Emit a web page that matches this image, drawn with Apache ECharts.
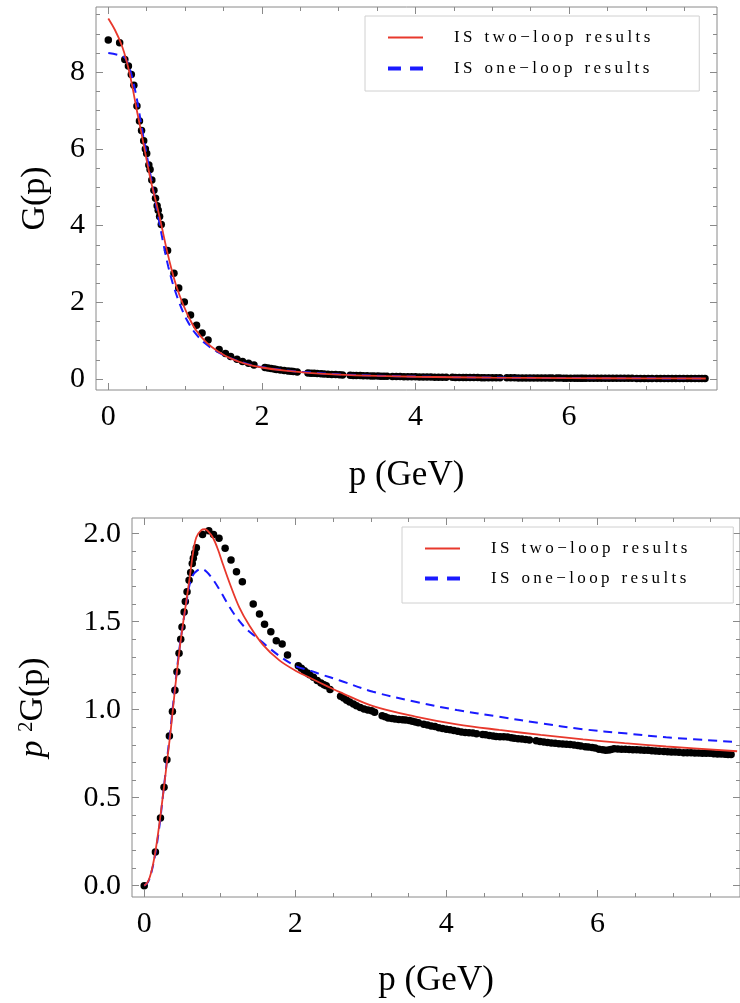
<!DOCTYPE html>
<html><head><meta charset="utf-8">
<script src="https://cdn.jsdelivr.net/npm/echarts@6/dist/echarts.min.js"></script>
<style>html,body{margin:0;padding:0;background:#fff;}#c{width:740px;height:1003px;}</style>
</head><body><div id="c"></div><script>
// ---- lattice data (momentum p in GeV) ----
const pLattice = [0,0.148,0.215,0.262,0.300,0.333,0.373,0.406,0.433,0.461,0.483,0.500,0.528,0.544,0.567,0.594,0.615,0.636,0.650,0.668,0.690,
0.772,0.855,0.917,0.990,1.071,1.149,1.221,1.299,1.443,1.526,1.593,1.676,1.748,1.826,1.897,
2.04,2.08,2.12,2.16,2.19,2.24,2.29,2.34,2.38,2.41,2.46,
2.60,2.64,2.68,2.72,2.77,2.81,2.86,2.91,2.96,3.01,3.05,
3.15,3.19,3.23,3.28,3.32,3.37,3.42,3.46,3.51,3.55,3.59,3.63,
3.70,3.75,3.80,3.85,3.90,3.95,4.00,4.05,4.10,4.15,4.20,4.25,4.30,4.35,4.40,
4.48,4.52,4.57,4.62,4.66,4.71,4.76,4.81,4.86,4.90,
4.95,5.00,5.05,5.10,
5.19,5.24,5.29,5.34,5.39,5.44,5.49,5.54,5.59,5.64,5.69,5.74,5.78,
5.84,5.88,5.93,5.97,
6.02,6.07,6.11,6.15,6.18,
6.22,6.27,6.32,6.37,6.42,6.47,6.52,6.57,6.62,6.67,6.72,6.77,6.82,
6.88,6.93,6.98,7.03,7.08,
7.14,7.19,7.24,7.29,7.34,7.39,7.44,7.49,7.54,7.59,7.64,7.69,7.73,7.77];
// G(p)
const gLattice = [8.84,8.77,8.33,8.16,7.94,7.66,7.12,6.73,6.48,6.21,6.00,5.88,5.58,5.46,5.19,4.92,4.71,4.52,4.40,4.24,4.03,
3.35,2.76,2.37,2.01,1.67,1.40,1.20,1.02,0.768,0.663,0.585,0.514,0.456,0.412,0.364,
0.300,0.285,0.272,0.259,0.250,0.236,0.222,0.210,0.202,0.196,0.184,
0.159,0.153,0.147,0.141,0.135,0.130,0.124,0.119,0.114,0.110,0.106,
0.0974,0.0943,0.0913,0.0883,0.0859,0.0832,0.0806,0.0786,0.0761,0.0741,0.0722,0.0703,
0.0671,0.0649,0.0629,0.0610,0.0590,0.0572,0.0556,0.0540,0.0525,0.0510,0.0495,0.0482,0.0470,0.0458,0.0446,
0.0428,0.0419,0.0408,0.0398,0.0390,0.0382,0.0373,0.0365,0.0356,0.0349,
0.0341,0.0333,0.0326,0.0318,
0.0306,0.0299,0.0292,0.0285,0.0279,0.0273,0.0268,0.0262,0.0257,0.0252,0.0247,0.0242,0.0238,
0.0232,0.0228,0.0223,0.0220,
0.0214,0.0210,0.0206,0.0204,0.0203,
0.0201,0.0198,0.0194,0.0191,0.0188,0.0185,0.0182,0.0179,0.0176,0.0173,0.0170,0.0167,0.0164,
0.0161,0.0158,0.0156,0.0154,0.0151,
0.0148,0.0146,0.0144,0.0142,0.0140,0.0138,0.0136,0.0134,0.0132,0.0130,0.0128,0.0126,0.0125,0.0123];
// p^2 G(p)
const p2gLattice = [0,0.192,0.385,0.560,0.715,0.850,0.990,1.110,1.215,1.320,1.400,1.470,1.555,1.615,1.670,1.735,1.780,1.830,1.860,1.890,1.920,
1.995,2.017,1.995,1.974,1.917,1.850,1.784,1.727,1.600,1.544,1.485,1.443,1.392,1.373,1.311,
1.249,1.235,1.221,1.208,1.198,1.185,1.166,1.151,1.142,1.136,1.115,
1.076,1.066,1.053,1.044,1.033,1.023,1.013,1.004,0.998,0.994,0.985,
0.966,0.960,0.953,0.950,0.947,0.945,0.943,0.941,0.938,0.934,0.930,0.926,
0.918,0.913,0.908,0.904,0.898,0.893,0.889,0.886,0.882,0.878,0.873,0.871,0.869,0.867,0.864,
0.859,0.857,0.853,0.850,0.848,0.847,0.846,0.845,0.841,0.838,
0.835,0.833,0.831,0.828,
0.823,0.820,0.816,0.813,0.811,0.809,0.807,0.805,0.804,0.802,0.799,0.796,0.794,
0.790,0.788,0.785,0.783,
0.776,0.772,0.769,0.771,0.774,
0.778,0.777,0.776,0.775,0.774,0.773,0.772,0.771,0.770,0.769,0.767,0.765,0.764,
0.762,0.761,0.760,0.759,0.758,
0.756,0.756,0.755,0.754,0.754,0.753,0.752,0.752,0.750,0.749,0.748,0.747,0.746,0.745];

// ---- model curves, upper panel ----
const pTwoLoopTop = [0,0.087,0.174,0.24,0.305,0.37,0.435,0.5,0.565,0.63,0.695,0.76,0.825,0.89,0.977,1.064,1.15,1.28,1.43,1.6,1.8,2.0,2.3,2.6,3.0,3.5,4.0,5.0,6.0,7.0,7.78];
const gTwoLoopTop = [9.40,9.10,8.71,8.28,7.71,7.02,6.38,5.70,5.07,4.55,3.98,3.38,2.85,2.40,1.93,1.55,1.25,0.95,0.72,0.53,0.387,0.30,0.217,0.162,0.113,0.079,0.058,0.035,0.023,0.016,0.0126];
const pOneLoopTop = [0,0.13,0.217,0.283,0.348,0.39,0.456,0.52,0.586,0.651,0.716,0.781,0.846,0.934,1.02,1.13,1.26,1.43,1.6,1.8,2.0,2.3,2.6,3.0,3.5,4.0,5.0,6.0,7.0,7.78];
const gOneLoopTop = [8.50,8.45,8.37,8.06,7.54,7.10,6.32,5.63,4.93,4.23,3.54,2.93,2.45,1.94,1.55,1.20,0.93,0.70,0.537,0.401,0.3125,0.227,0.173,0.123,0.086,0.063,0.0376,0.0244,0.0171,0.0135];

// ---- model curves, lower panel ----
const pTwoLoopBot = [0,0.05,0.1,0.15,0.2,0.25,0.3,0.35,0.41,0.47,0.514,0.558,0.602,0.646,0.69,0.756,0.80,0.844,0.91,0.976,1.042,1.13,1.26,1.39,1.57,1.79,2.01,2.2,2.44,2.59,3.03,3.59,4.14,4.70,5.25,5.81,6.36,6.91,7.85];
const p2gTwoLoopBot = [0,0.023,0.09,0.20,0.35,0.52,0.70,0.88,1.128,1.35,1.49,1.62,1.75,1.89,1.98,2.02,2.025,2.015,1.977,1.91,1.826,1.72,1.58,1.48,1.37,1.28,1.22,1.18,1.13,1.10,1.02,0.961,0.917,0.885,0.857,0.832,0.810,0.791,0.764];
const pOneLoopBot = [0,0.05,0.1,0.15,0.2,0.25,0.3,0.35,0.41,0.47,0.514,0.558,0.60,0.646,0.70,0.756,0.822,0.91,1.02,1.12,1.23,1.36,1.49,1.67,1.84,2.02,2.2,2.33,2.59,3.03,3.59,4.14,4.70,5.25,5.81,6.36,6.91,7.85];
const p2gOneLoopBot = [0,0.021,0.085,0.19,0.335,0.52,0.71,0.90,1.14,1.36,1.49,1.61,1.71,1.765,1.79,1.80,1.785,1.74,1.665,1.59,1.52,1.455,1.41,1.345,1.29,1.245,1.222,1.202,1.166,1.102,1.045,0.998,0.96,0.923,0.889,0.866,0.843,0.816];

// ---- tick values ----
const xMajorTicks = [0,2,4,6];
const xMinorTicks = [0.5,1,1.5,2.5,3,3.5,4.5,5,5.5,6.5,7,7.5];
const yTopMajorTicks = [0,2,4,6,8];
const yTopMinorTicks = [0.5,1,1.5,2.5,3,3.5,4.5,5,5.5,6.5,7,7.5,8.5,9,9.5];
const yBotMajorTicks = [0,0.5,1,1.5,2];
const yBotMinorTicks = [0.1,0.2,0.3,0.4,0.6,0.7,0.8,0.9,1.1,1.2,1.3,1.4,1.6,1.7,1.8,1.9];

const NAME_TWO = 'IS two\u2212loop results';
const NAME_ONE = 'IS one\u2212loop results';

const SERIF = '"Liberation Serif","Times New Roman",serif';
const TICK = '#8a8a8a';
const RED = '#e8382c';
const BLUE = '#1a1aff';

function zip(a, b){ return a.map((v,i)=>[v,b[i]]); }

function xAxes(grid, min, max, name, nameGap){
  const base = {type:'value', gridIndex:grid, min, max, axisLine:{show:false,onZero:false}, splitLine:{show:false}};
  const tk = (vals,len)=>({show:true,inside:true,length:len,lineStyle:{color:TICK,width:1},customValues:vals});
  return [
    Object.assign({}, base, {position:'bottom', name, nameLocation:'middle', nameGap,
      nameTextStyle:{fontFamily:SERIF,fontSize:35,color:'#000'},
      axisTick:tk(xMajorTicks,7),
      axisLabel:{show:true,customValues:xMajorTicks,margin:12,fontFamily:SERIF,fontSize:30,color:'#000'}}),
    Object.assign({}, base, {position:'bottom', axisTick:tk(xMinorTicks,4), axisLabel:{show:false}}),
    Object.assign({}, base, {position:'top', axisTick:tk(xMajorTicks,7), axisLabel:{show:false}}),
    Object.assign({}, base, {position:'top', axisTick:tk(xMinorTicks,4), axisLabel:{show:false}})
  ];
}
function yAxes(grid, min, max, major, minor, fmt, name, nameGap, rich){
  const base = {type:'value', gridIndex:grid, min, max, axisLine:{show:false,onZero:false}, splitLine:{show:false}};
  const tk = (vals,len)=>({show:true,inside:true,length:len,lineStyle:{color:TICK,width:1},customValues:vals});
  const nts = {fontFamily:SERIF,fontSize:34,color:'#000'};
  if (rich) nts.rich = rich;
  return [
    Object.assign({}, base, {position:'left', name, nameLocation:'middle', nameGap, nameTextStyle:nts,
      axisTick:tk(major,7),
      axisLabel:{show:true,customValues:major,margin:11,formatter:fmt,fontFamily:SERIF,fontSize:30,color:'#000'}}),
    Object.assign({}, base, {position:'left', axisTick:tk(minor,4), axisLabel:{show:false}}),
    Object.assign({}, base, {position:'right', axisTick:tk(major,7), axisLabel:{show:false}}),
    Object.assign({}, base, {position:'right', axisTick:tk(minor,4), axisLabel:{show:false}})
  ];
}

function spaced(name){
  return name.split(' ').map(w=>w.split('').join('\u2009')).join('\u2002\u2009');
}
function legendAt(left, top, padding, gap){
  return {
    orient:'vertical', left, top, padding, itemGap:gap, itemWidth:35, itemHeight:14,
    borderColor:'#d0d0d0', borderWidth:1, backgroundColor:'#fff',
    data:[
      {name:NAME_TWO, icon:'path://M0,6 L35,6 L35,8 L0,8 Z', itemStyle:{color:RED,opacity:1}},
      {name:NAME_ONE, icon:'path://M0,6 L10,6 L10,9 L0,9 Z M17,6 L27,6 L27,9 L17,9 Z', itemStyle:{color:BLUE,opacity:1}}
    ],
    formatter: spaced,
    textStyle:{fontFamily:SERIF,fontSize:17,color:'#000',lineHeight:14,padding:[0,0,0,26]}
  };
}

const pointStyle = {type:'scatter', symbol:'circle', symbolSize:7.5, itemStyle:{color:'#000',opacity:1}, z:2, silent:true};
const lineTwo = {type:'line', name:NAME_TWO, showSymbol:false, symbol:'none', smooth:0.35,
  lineStyle:{color:RED,width:1.8}, itemStyle:{color:RED}, z:4};
const lineOne = {type:'line', name:NAME_ONE, showSymbol:false, symbol:'none', smooth:0.35,
  lineStyle:{color:BLUE,width:2,type:[9,6]}, itemStyle:{color:BLUE}, z:3};

const chart = echarts.init(document.getElementById('c'), null, {renderer:'canvas'});
chart.setOption({
  animation:false,
  backgroundColor:'#fff',
  grid:[
    {left:96, top:7, width:621, height:383, show:true, borderColor:TICK, borderWidth:1, backgroundColor:'transparent'},
    {left:132, top:518, width:611, height:379, show:true, borderColor:TICK, borderWidth:1, backgroundColor:'transparent'}
  ],
  legend:[ legendAt(365,16,[13,49,14,23],14), legendAt(402,527,[13,46,16,23],13) ],
  xAxis: [].concat(
    xAxes(0, -0.160, 7.926, 'p (GeV)', 68),
    xAxes(1, -0.162, 7.888, 'p (GeV)', 66)
  ),
  yAxis: [].concat(
    yAxes(0, -0.287, 9.70, yTopMajorTicks, yTopMinorTicks, v=>String(v), 'G(p)', 44),
    yAxes(1, -0.064, 2.089, yBotMajorTicks, yBotMinorTicks, v=>v.toFixed(1), '{i|p} {s|2}G(p)', 82,
      {i:{fontFamily:SERIF,fontSize:34,fontStyle:'italic',color:'#000'}, s:{fontFamily:SERIF,fontSize:21,color:'#000',verticalAlign:'top'}})
  ),
  series:[
    Object.assign({}, pointStyle, {name:'lattice G', xAxisIndex:0, yAxisIndex:0, data:zip(pLattice,gLattice)}),
    Object.assign({}, lineOne, {xAxisIndex:0, yAxisIndex:0, data:zip(pOneLoopTop,gOneLoopTop)}),
    Object.assign({}, lineTwo, {xAxisIndex:0, yAxisIndex:0, data:zip(pTwoLoopTop,gTwoLoopTop)}),
    Object.assign({}, pointStyle, {name:'lattice p2G', xAxisIndex:4, yAxisIndex:4, data:zip(pLattice,p2gLattice)}),
    Object.assign({}, lineOne, {xAxisIndex:4, yAxisIndex:4, data:zip(pOneLoopBot,p2gOneLoopBot)}),
    Object.assign({}, lineTwo, {xAxisIndex:4, yAxisIndex:4, data:zip(pTwoLoopBot,p2gTwoLoopBot)})
  ]
});
</script></body></html>
